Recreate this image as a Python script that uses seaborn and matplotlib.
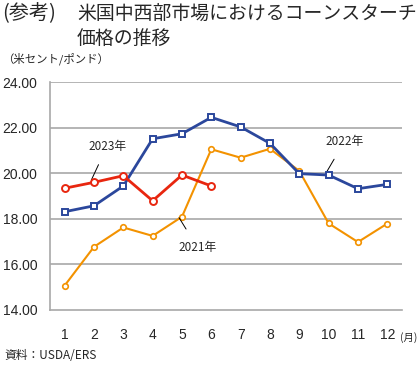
import pandas as pd
import seaborn as sns
import matplotlib.pyplot as plt

months = list(range(1, 13))
price_2021 = [15.07, 16.77, 17.62, 17.25, 18.09, 21.05, 20.68, 21.07, 20.10, 17.80, 16.98, 17.79]
price_2022 = [18.31, 18.57, 19.44, 21.51, 21.73, 22.45, 22.03, 21.31, 19.98, 19.92, 19.32, 19.51]
price_2023 = [19.34, 19.60, 19.89, 18.79, 19.92, 19.44]

ORANGE = "#F39200"
BLUE = "#2B479C"
RED = "#E8260F"


def main():
  sns.set_style("white")
  plt.rcParams['font.family'] = ['Liberation Sans', 'Noto Sans CJK JP', 'DejaVu Sans']
  jp = ['Noto Sans CJK JP', 'DejaVu Sans']

  fig = plt.figure(figsize=(4.2, 3.65), dpi=100)
  ax = fig.add_axes([0.119, 0.1507, 0.838, 0.6246])

  for y in [16, 18, 20, 22, 24]:
    ax.axhline(y, color="#a8a8a8", lw=1.2, zorder=0)

  df21 = pd.DataFrame({"month": months, "price": price_2021})
  df22 = pd.DataFrame({"month": months, "price": price_2022})
  df23 = pd.DataFrame({"month": months[:len(price_2023)], "price": price_2023})

  sns.lineplot(data=df21, x="month", y="price", ax=ax, color=ORANGE, lw=1.5,
               marker="o", markersize=4, markerfacecolor="white",
               markeredgecolor=ORANGE, markeredgewidth=1.2, zorder=3)
  sns.lineplot(data=df22, x="month", y="price", ax=ax, color=BLUE, lw=2.0,
               marker="s", markersize=5, markerfacecolor="white",
               markeredgecolor=BLUE, markeredgewidth=1.4, zorder=4)
  sns.lineplot(data=df23, x="month", y="price", ax=ax, color=RED, lw=2.0,
               marker="o", markersize=5, markerfacecolor="white",
               markeredgecolor=RED, markeredgewidth=1.4, zorder=5)

  ax.set_xlim(0.5, 12.5)
  ax.set_ylim(14, 24)
  ax.set_yticks([14, 16, 18, 20, 22, 24])
  ax.set_yticklabels(["14.00", "16.00", "18.00", "20.00", "22.00", "24.00"], fontsize=10)
  ax.set_xticks(months)
  ax.set_xticklabels([str(m) for m in months], fontsize=10)
  ax.set_xticks([m + 0.5 for m in range(0, 13)], minor=True)
  ax.tick_params(axis='x', which='major', length=0, pad=13)
  ax.tick_params(axis='x', which='minor', length=4, color="#a8a8a8", direction='out')
  ax.tick_params(axis='y', length=4, color="#a8a8a8", direction='out', pad=5)
  ax.set_xlabel("")
  ax.set_ylabel("")
  for s in ["top", "right"]:
    ax.spines[s].set_visible(False)
  for s in ["left", "bottom"]:
    ax.spines[s].set_color("#a8a8a8")
    ax.spines[s].set_linewidth(1.2)

  # annotations
  line = dict(arrowstyle="-", color="black", lw=0.7, shrinkA=7, shrinkB=0)
  ax.annotate("2023年", xy=(1.91, 19.70), xytext=(2.45, 21.19), fontsize=8.5,
              ha="center", va="center", family=jp, arrowprops=line)
  ax.annotate("2021年", xy=(4.9, 18.05), xytext=(5.52, 16.76), fontsize=8.5,
              ha="center", va="center", family=jp, arrowprops=line)
  ax.annotate("2022年", xy=(9.93, 20.05), xytext=(10.55, 21.41), fontsize=8.5,
              ha="center", va="center", family=jp, arrowprops=line)

  fig.text(0.005, 0.962, "(参考)", fontsize=14.5, family=jp, va="center", ha="left")
  fig.text(0.183, 0.962, "米国中西部市場におけるコーンスターチ", fontsize=13.6, family=jp,
           va="center", ha="left")
  fig.text(0.183, 0.895, "価格の推移", fontsize=13.6, family=jp, va="center", ha="left")
  fig.text(0.005, 0.84, "（米セント/ポンド）", fontsize=8.2, family=jp, va="center", ha="left")
  fig.text(0.952, 0.074, "(月)", fontsize=7.5, family=jp, va="center", ha="left")
  fig.text(0.01, 0.025, "資料：USDA/ERS", fontsize=8.5, family=jp, va="center", ha="left")

  fig.savefig("out.png", dpi=100)


if __name__ == '__main__':
  main()
